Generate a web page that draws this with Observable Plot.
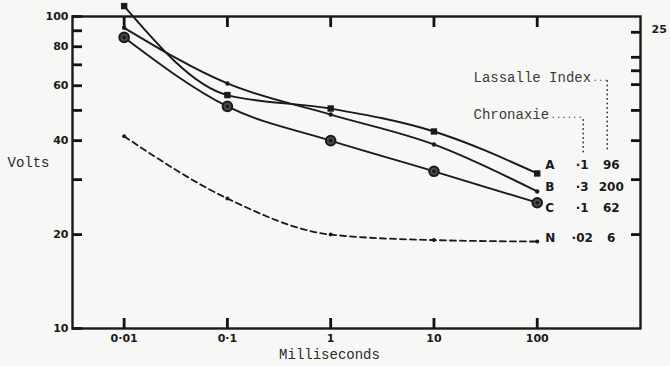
<!DOCTYPE html>
<html><head>
<meta charset="utf-8">
<script src="https://cdn.jsdelivr.net/npm/d3@7"></script>
<script src="https://cdn.jsdelivr.net/npm/@observablehq/plot@0.6"></script>
<style>
html,body{margin:0;padding:0;background:#f7f7f5;}
#chart svg{display:block;}
</style>
</head><body><div id="chart"></div>
<script>
// ---- data ----
const durations = [0.01, 0.1, 1, 10, 100];          // milliseconds
const seriesA = [108, 56, 50.7, 42.8, 31.4];         // volts (squares)
const seriesB = [92, 61, 48.5, 38.9, 27.5];          // volts (small dots)
const seriesC = [85.7, 51.5, 40, 31.9, 25.3];        // volts (circles)
const seriesN = [41.3, 26.1, 20.0, 19.2, 19.0];      // volts (dashed)
const seriesNames = ["A", "B", "C", "N"];
const chronaxie = ["·1", "·3", "·1", "·02"];
const lassalleIndex = ["96", "200", "62", "6"];
const xTicks = [0.01, 0.1, 1, 10, 100];
const xTickLabels = ["0·01", "0·1", "1", "10", "100"];
const yTicks = [10, 20, 30, 40, 50, 60, 70, 80, 90, 100];
const yTickLabels = ["10", "20", "", "40", "", "60", "", "80", "", "100"];
const rightTicks = [89, 74, 67, 60.5, 50, 40, 30, 20];
const rightTickLabels = ["25", "", "", "", "", "", "", ""];

// ---- build tables ----
const allSeries = [seriesA, seriesB, seriesC, seriesN];
const rows = allSeries.flatMap((vals, i) =>
  vals.map((v, j) => ({series: seriesNames[i], ms: durations[j], volts: v})));
const bySeries = name => rows.filter(d => d.series === name);
const last = seriesNames.map((name, i) => ({
  series: name, ms: durations[durations.length - 1],
  volts: allSeries[i][allSeries[i].length - 1],
  chron: chronaxie[i], lass: lassalleIndex[i]
}));

const ink = "#1a1a1a";
const bg = "#f7f7f5";
const tickFont = {fontFamily: "DejaVu Sans", fontWeight: "bold", fontSize: 11, fill: ink};
const typeFont = {fontFamily: "Liberation Mono", fontSize: 14, fill: "#3a3a3a"};
const tickLine = {stroke: "#111", strokeWidth: 2.8};

function endLabel(name, dy) {
  const d = last.filter(r => r.series === name);
  const f = {...tickFont, fontSize: 12};
  return [
    Plot.text(d, {x: "ms", y: "volts", text: "series", dx: 8, dy, textAnchor: "start", ...f}),
    Plot.text(d, {x: "ms", y: "volts", text: "chron", dx: 45, dy, ...f}),
    Plot.text(d, {x: "ms", y: "volts", text: "lass", dx: 74, dy, ...f})
  ];
}

const chart = Plot.plot({
  width: 670, height: 366,
  marginLeft: 72, marginRight: 30, marginTop: 16, marginBottom: 38,
  style: {background: bg},
  x: {type: "log", domain: [Math.pow(10, -2.5), 1000], label: null},
  y: {type: "log", domain: [10, 100], label: null},
  marks: [
    // inward ticks
    Plot.ruleX(xTicks, {insetTop: 302, ...tickLine}),
    Plot.ruleX(xTicks, {insetBottom: 301, ...tickLine}),
    Plot.ruleY(yTicks, {insetRight: 558, ...tickLine}),
    Plot.ruleY(rightTicks, {insetLeft: 559, ...tickLine}),
    Plot.frame({stroke: ink, strokeWidth: 2.4}),
    // tick labels
    Plot.axisX({anchor: "bottom", ticks: xTicks, tickSize: 0, tickPadding: 6,
      tickFormat: d => xTickLabels[xTicks.indexOf(d)], ...tickFont, label: null}),
    Plot.axisY({anchor: "left", ticks: yTicks, tickSize: 0, tickPadding: 4,
      tickFormat: d => yTickLabels[yTicks.indexOf(d)], ...tickFont, label: null}),
    Plot.axisY({anchor: "right", ticks: rightTicks, tickSize: 0, tickPadding: 11, dy: -3,
      tickFormat: d => rightTickLabels[rightTicks.indexOf(d)], ...tickFont, label: null}),
    // axis titles
    Plot.text(["Volts"], {frameAnchor: "left", dx: -65, dy: -10, textAnchor: "start", text: d => d, ...typeFont, fill: "#2a2a2a"}),
    Plot.text(["Milliseconds"], {frameAnchor: "bottom", dx: -27, dy: 30, text: d => d, ...typeFont, fill: "#2a2a2a"}),
    // curves
    Plot.line(rows.filter(d => d.series !== "N"), {x: "ms", y: "volts", z: "series", curve: "monotone-x", stroke: ink, strokeWidth: 1.9}),
    Plot.line(bySeries("N"), {x: "ms", y: "volts", curve: "monotone-x", stroke: ink, strokeWidth: 1.8, strokeDasharray: "6,4"}),
    // markers
    Plot.dot(bySeries("A"), {x: "ms", y: "volts", symbol: "square", r: 3.6, fill: ink}),
    Plot.dot(bySeries("B"), {x: "ms", y: "volts", r: 2.2, fill: ink}),
    Plot.dot(bySeries("C"), {x: "ms", y: "volts", r: 4.8, fill: "#4a4a4a", stroke: ink, strokeWidth: 2}),
    Plot.dot(bySeries("C"), {x: "ms", y: "volts", r: 1.8, fill: ink}),
    Plot.dot(bySeries("N"), {x: "ms", y: "volts", r: 2, fill: ink}),
    // end labels: series letter, chronaxie, Lassalle index
    ...endLabel("A", -8),
    ...endLabel("B", -4),
    ...endLabel("C", 5),
    ...endLabel("N", -3),
    // column headers with dotted leaders
    Plot.text(["Lassalle Index"], {frameAnchor: "top-left", dx: 401, dy: 56, textAnchor: "start", text: d => d, ...typeFont}),
    Plot.text(["Chronaxie"], {frameAnchor: "top-left", dx: 401, dy: 93, textAnchor: "start", text: d => d, ...typeFont}),
    Plot.text(["..."], {frameAnchor: "top-left", dx: 520, dy: 58, textAnchor: "start", text: d => d, fontFamily: "Liberation Mono", fontSize: 9, fill: "#3a3a3a"}),
    Plot.text(["......"], {frameAnchor: "top-left", dx: 478, dy: 95, textAnchor: "start", text: d => d, fontFamily: "Liberation Mono", fontSize: 9, fill: "#3a3a3a"}),
    Plot.ruleX([durations[durations.length - 1]], {dx: 46, insetTop: 104, insetBottom: 176, stroke: "#3a3a3a", strokeWidth: 1.8, strokeDasharray: "0,4.5", strokeLinecap: "round"}),
    Plot.ruleX([durations[durations.length - 1]], {dx: 70, insetTop: 65, insetBottom: 178, stroke: "#3a3a3a", strokeWidth: 1.8, strokeDasharray: "0,4.5", strokeLinecap: "round"})
  ]
});
document.getElementById("chart").appendChild(chart);
</script>
</body></html>
